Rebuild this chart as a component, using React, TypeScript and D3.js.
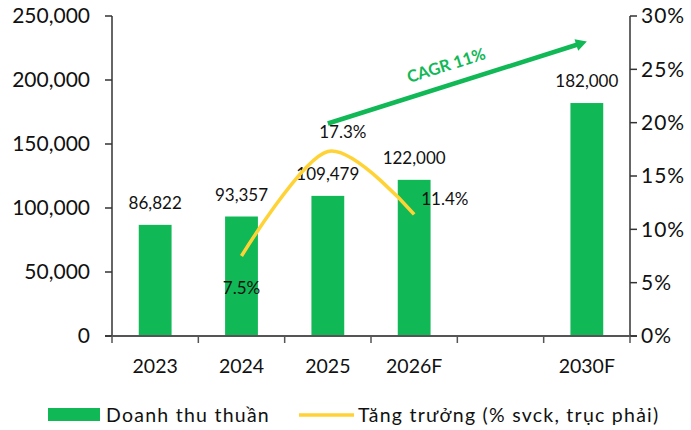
import React from 'react';
import * as d3 from 'd3';

const categories = ['2023', '2024', '2025', '2026F', '', '2030F'];
const revenue: (number | null)[] = [86822, 93357, 109479, 122000, null, 182000];
const growth: (number | null)[] = [null, 7.5, 17.3, 11.4, null, null];
const leftTicks = [0, 50000, 100000, 150000, 200000, 250000];
const rightTicks = [0, 5, 10, 15, 20, 25, 30];
const growthLabelPos = ['', 'below', 'above', 'right', '', ''];
// CAGR arrow, anchored on category + left-axis value
const cagrFrom = { cat: 2, value: 166000 };
const cagrTo = { cat: 5, value: 230000 };
const cagrText = 'CAGR 11%';
const legendItems = ['Doanh thu thuần', 'Tăng trưởng (% svck, trục phải)'];

const W = 691;
const H = 430;
const BAR = '#10B856';
const LINE = '#FFD336';
const AXIS = '#333';
const FONT = 'Lato, sans-serif';

const App = () => {
  const margin = { left: 112, right: 61, top: 16, bottom: 94 };
  const x = d3
    .scaleBand<number>()
    .domain(categories.map((_, i) => i))
    .range([margin.left, W - margin.right])
    .padding(0);
  const xc = (i: number) => (x(i) as number) + x.bandwidth() / 2;
  const yL = d3.scaleLinear().domain([0, 250000]).range([H - margin.bottom, margin.top]);
  const yR = d3.scaleLinear().domain([0, 30]).range([H - margin.bottom, margin.top]);
  const barW = x.bandwidth() * 0.38;
  const fmt = d3.format(',');

  const pts = growth
    .map((g, i) => (g == null ? null : ([xc(i), yR(g)] as [number, number])))
    .filter((p): p is [number, number] => p !== null);
  const lineGen = d3.line().curve(d3.curveCardinal.tension(0.1));

  const x0 = margin.left;
  const x1 = W - margin.right;
  const yBase = yL(0);

  const ax1 = xc(cagrFrom.cat);
  const ay1 = yL(cagrFrom.value);
  const ax2 = xc(cagrTo.cat);
  const ay2 = yL(cagrTo.value);
  const ang = (Math.atan2(ay2 - ay1, ax2 - ax1) * 180) / Math.PI;
  const len = Math.hypot(ax2 - ax1, ay2 - ay1);

  return (
    <svg width={W} height={H} style={{ position: 'absolute', left: 0, top: 0, fontFamily: FONT }}>
      <rect width={W} height={H} fill="#fff" />
      {/* bars */}
      {revenue.map((v, i) =>
        v == null ? null : (
          <g key={'b' + i}>
            <rect x={xc(i) - barW / 2} y={yL(v)} width={barW} height={yBase - yL(v)} fill={BAR} />
            <text x={xc(i)} y={yL(v) - 16} textAnchor="middle" fontSize={17} fill="#111">
              {fmt(v)}
            </text>
          </g>
        )
      )}
      {/* growth line */}
      <path d={lineGen(pts) || ''} fill="none" stroke={LINE} strokeWidth={3.5} />
      {growth.map((g, i) => {
        if (g == null) return null;
        const pos = growthLabelPos[i];
        const px = xc(i);
        const py = yR(g);
        let tx = px;
        let ty = py;
        let anchor: 'middle' | 'start' = 'middle';
        if (pos === 'below') ty = py + 38;
        if (pos === 'above') {
          tx = px + 15;
          ty = py - 13;
        }
        if (pos === 'right') {
          tx = px + 7;
          ty = py - 9;
          anchor = 'start';
        }
        return (
          <text key={'g' + i} x={tx} y={ty} textAnchor={anchor} fontSize={17} fill="#111">
            {g.toFixed(1) + '%'}
          </text>
        );
      })}
      {/* axes */}
      <line x1={x0} x2={x0} y1={margin.top} y2={yBase} stroke={AXIS} strokeWidth={1.5} />
      <line x1={x1} x2={x1} y1={margin.top} y2={yBase} stroke={AXIS} strokeWidth={1.5} />
      <line x1={x0 - 7} x2={x1 + 7} y1={yBase} y2={yBase} stroke="#555" strokeWidth={2} />
      {leftTicks.map((t) => (
        <g key={'l' + t}>
          <line x1={x0 - 7} x2={x0} y1={yL(t)} y2={yL(t)} stroke={AXIS} strokeWidth={1.5} />
          <text x={x0 - 22} y={yL(t)} dy="0.35em" textAnchor="end" fontSize={21} fill="#111">
            {fmt(t)}
          </text>
        </g>
      ))}
      {rightTicks.map((t) => (
        <g key={'r' + t}>
          <line x1={x1} x2={x1 + 7} y1={yR(t)} y2={yR(t)} stroke={AXIS} strokeWidth={1.5} />
          <text
            x={x1 + 11}
            y={yR(t)}
            dy="0.35em"
            textAnchor="start"
            fontSize={21}
            letterSpacing={1}
            fill="#111"
          >
            {t + '%'}
          </text>
        </g>
      ))}
      {categories.map((c, i) => (
        <g key={'c' + i}>
          <line
            x1={x(i) as number}
            x2={x(i) as number}
            y1={yBase}
            y2={yBase + 7}
            stroke="#555"
            strokeWidth={1.5}
          />
          <text x={xc(i)} y={yBase + 37} textAnchor="middle" fontSize={19.5} fill="#111">
            {c}
          </text>
        </g>
      ))}
      <line x1={x1} x2={x1} y1={yBase} y2={yBase + 7} stroke="#555" strokeWidth={1.5} />
      {/* CAGR arrow */}
      <g transform={`translate(${ax1},${ay1}) rotate(${ang})`}>
        <line x1={0} y1={0} x2={len - 8} y2={0} stroke={BAR} strokeWidth={4.5} />
        <path d={`M${len},0 L${len - 11},-6 L${len - 11},6 Z`} fill={BAR} />
        <text x={len * 0.48} y={-14} textAnchor="middle" fontSize={16.5} fontWeight={700} fill={BAR}>
          {cagrText}
        </text>
      </g>
      {/* legend */}
      <g transform={`translate(0, ${H - 15})`}>
        <rect x={48} y={-7} width={52} height={13} fill={BAR} />
        <text x={106} y={0} dy="0.35em" fontSize={19.5} letterSpacing={1.25} fill="#111">
          {legendItems[0]}
        </text>
        <line x1={299} x2={354} y1={0} y2={0} stroke={LINE} strokeWidth={3.5} />
        <text x={358} y={0} dy="0.35em" fontSize={19.5} letterSpacing={1.25} fill="#111">
          {legendItems[1]}
        </text>
      </g>
    </svg>
  );
};

export default App;
